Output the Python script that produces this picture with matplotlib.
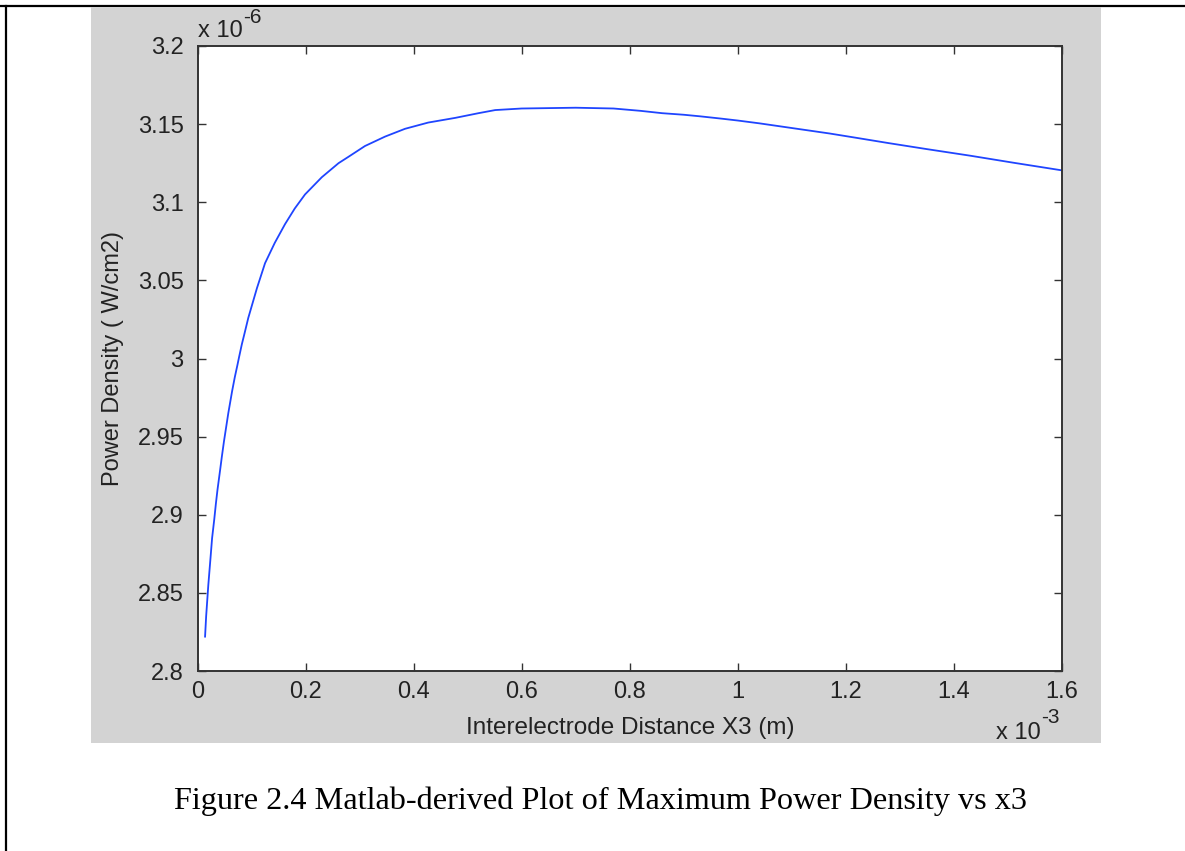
"""Matlab-style plot of maximum power density vs interelectrode distance x3 (Figure 2.4)."""
import matplotlib

matplotlib.use("Agg")
import matplotlib.pyplot as plt  # noqa: E402
from matplotlib.lines import Line2D  # noqa: E402
from matplotlib.patches import Rectangle  # noqa: E402

# interelectrode distance, in units of 1e-3 m
x3_e3 = [0.014, 0.016, 0.020, 0.024, 0.027, 0.031, 0.034, 0.037, 0.042, 0.045,
         0.049, 0.053, 0.057, 0.061, 0.064, 0.069, 0.074, 0.077, 0.082, 0.087,
         0.094, 0.110, 0.125, 0.143, 0.162, 0.180, 0.199, 0.230, 0.261, 0.279,
         0.310, 0.347, 0.384, 0.427, 0.477, 0.520, 0.551, 0.600, 0.700, 0.770,
         0.820, 0.860, 0.900, 0.930, 0.970, 1.000, 1.040, 1.070, 1.110, 1.170,
         1.220, 1.280, 1.350, 1.430, 1.510, 1.600]
# maximum power density, in units of 1e-6 W/cm2
pd_e6 = [2.822, 2.835, 2.855, 2.872, 2.885, 2.897, 2.907, 2.916, 2.929, 2.937,
         2.947, 2.956, 2.965, 2.973, 2.979, 2.988, 2.996, 3.001, 3.009, 3.016,
         3.026, 3.045, 3.061, 3.074, 3.086, 3.096, 3.105, 3.116, 3.125, 3.129,
         3.136, 3.142, 3.147, 3.151, 3.154, 3.157, 3.159, 3.160, 3.1605, 3.160,
         3.1585, 3.157, 3.156, 3.155, 3.1535, 3.1523, 3.1505, 3.149, 3.147, 3.144,
         3.1412, 3.1378, 3.134, 3.1298, 3.1253, 3.1204]

XTICKS = [0, 0.2, 0.4, 0.6, 0.8, 1.0, 1.2, 1.4, 1.6]
XTICKLABELS = ["0", "0.2", "0.4", "0.6", "0.8", "1", "1.2", "1.4", "1.6"]
YTICKS = [2.8, 2.85, 2.9, 2.95, 3.0, 3.05, 3.1, 3.15, 3.2]
YTICKLABELS = ["2.8", "2.85", "2.9", "2.95", "3", "3.05", "3.1", "3.15", "3.2"]

W, H = 1185, 851
FS = 17
SANS = "Liberation Sans"
TXT = "#222222"


def fx(px):
    return px / W


def fy(py):
    return 1 - py / H


fig = plt.figure(figsize=(W / 100, H / 100), dpi=100)
fig.patch.set_facecolor("white")
plt.rcParams["font.family"] = SANS

# page frame and matlab grey figure background (kept behind the axes)
fig.add_artist(Line2D([fx(0), fx(W)], [fy(5.5), fy(5.5)], color="black", lw=1.6,
                      zorder=-5))
fig.add_artist(Line2D([fx(5.5), fx(5.5)], [fy(5.5), fy(H)], color="black", lw=1.6,
                      zorder=-5))
fig.add_artist(Rectangle((fx(91), fy(743)), fx(1101) - fx(91), fy(6.5) - fy(743),
                         facecolor="#d3d3d3", edgecolor="none", zorder=-4))

ax = fig.add_axes([fx(197.5), fy(671), fx(1062) - fx(197.5), fy(46) - fy(671)])
ax.plot(x3_e3, pd_e6, color="#1f45ff", lw=1.3)
ax.set_xlim(0, 1.6)
ax.set_ylim(2.8, 3.2)
ax.set_xticks(XTICKS, XTICKLABELS)
ax.set_yticks(YTICKS, YTICKLABELS)
ax.tick_params(direction="in", length=6, width=1, top=True, right=True,
               labelsize=FS, labelcolor=TXT, color="#333333")
ax.tick_params(axis="x", pad=7)
ax.tick_params(axis="y", pad=10)
for s in ax.spines.values():
    s.set_linewidth(1.4)
    s.set_color("#333333")

ax.set_xlabel("Interelectrode Distance X3 (m)", fontsize=FS + 0.5, color=TXT, labelpad=10)
ax.set_ylabel("Power Density ( W/cm2)", fontsize=FS, color=TXT, labelpad=10)

# matlab exponent labels
fig.text(fx(198), fy(37), "x 10", fontsize=FS, color=TXT, ha="left", va="baseline")
fig.text(fx(243), fy(23), "-6", fontsize=FS - 2, color=TXT, ha="left", va="baseline")
fig.text(fx(996), fy(739), "x 10", fontsize=FS, color=TXT, ha="left", va="baseline")
fig.text(fx(1041), fy(723), "-3", fontsize=FS - 2, color=TXT, ha="left", va="baseline")

fig.text(fx(600), fy(809), "Figure 2.4 Matlab-derived Plot of Maximum Power Density vs x3",
         fontsize=23.2, family="Liberation Serif", ha="center", va="baseline")

fig.savefig("out.png", dpi=100)
